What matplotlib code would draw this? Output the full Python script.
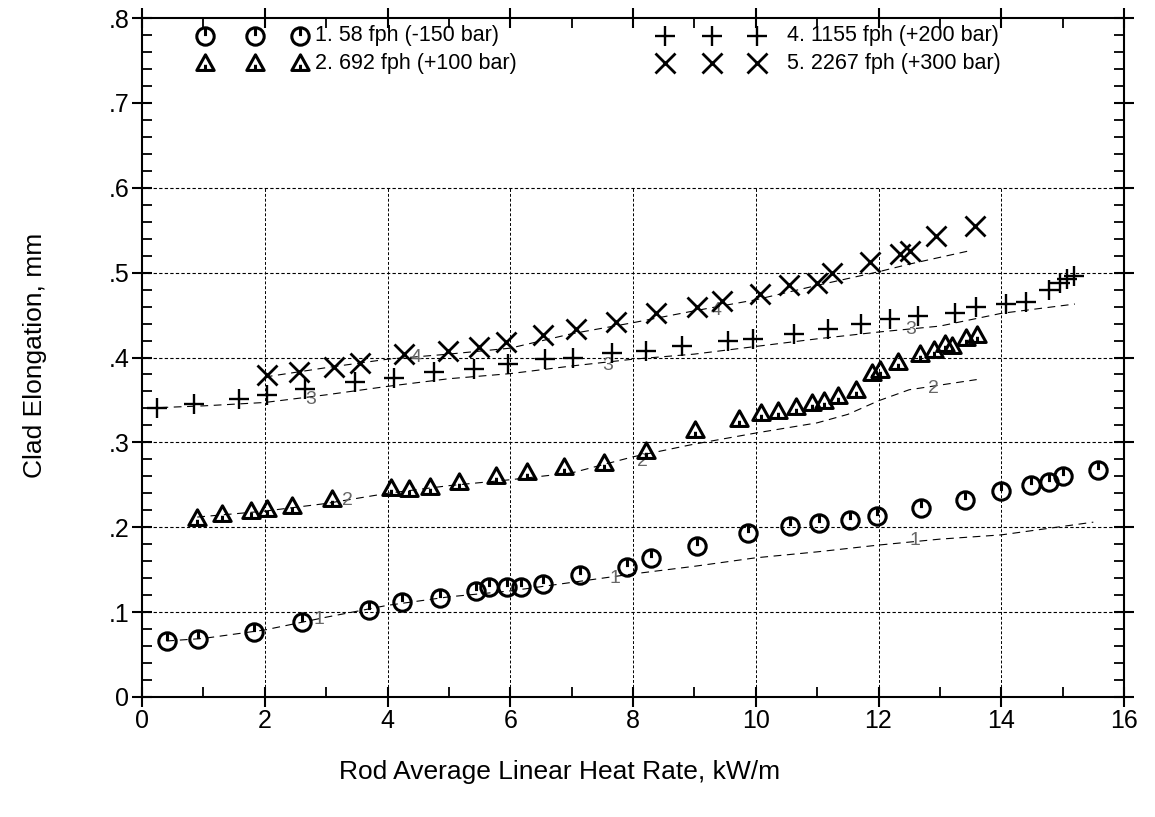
import matplotlib
matplotlib.use("Agg")
import matplotlib.pyplot as plt
from matplotlib.path import Path
from matplotlib.ticker import MultipleLocator, FixedLocator, FixedFormatter
import numpy as np

plt.rcParams['font.family'] = ['Liberation Sans', 'DejaVu Sans']

# ---------------- data (measured series) ----------------
s1_x = [0.41, 0.91, 1.82, 2.60, 3.70, 4.24, 4.85, 5.44, 5.65, 5.94, 6.18, 6.53, 7.14, 7.91,
        8.30, 9.05, 9.87, 10.55, 11.03, 11.53, 11.97, 12.70, 13.41, 14.00, 14.48, 14.78, 15.00, 15.57]
s1_y = [0.066, 0.068, 0.077, 0.088, 0.102, 0.112, 0.117, 0.125, 0.130, 0.130, 0.130, 0.133, 0.144, 0.153,
        0.164, 0.178, 0.193, 0.201, 0.205, 0.208, 0.213, 0.223, 0.232, 0.243, 0.250, 0.253, 0.260, 0.267]

s2_x = [0.90, 1.31, 1.78, 2.04, 2.44, 3.10, 4.05, 4.35, 4.70, 5.16, 5.77, 6.28, 6.88, 7.53,
        8.21, 9.01, 9.73, 10.08, 10.36, 10.65, 10.91, 11.11, 11.34, 11.63, 11.89, 12.03, 12.31,
        12.67, 12.91, 13.09, 13.20, 13.43, 13.61]
s2_y = [0.211, 0.216, 0.219, 0.221, 0.225, 0.233, 0.246, 0.245, 0.248, 0.253, 0.260, 0.265, 0.271, 0.276,
        0.290, 0.315, 0.328, 0.335, 0.337, 0.342, 0.346, 0.349, 0.355, 0.362, 0.382, 0.385, 0.395,
        0.404, 0.409, 0.416, 0.413, 0.423, 0.427]

s4_x = [0.24, 0.84, 1.58, 2.04, 2.66, 3.47, 4.11, 4.76, 5.41, 5.96, 6.56, 7.02, 7.66, 8.21, 8.80,
        9.54, 9.95, 10.62, 11.18, 11.71, 12.18, 12.64, 13.24, 13.59, 14.07, 14.40, 14.78, 14.96,
        15.07, 15.19]
s4_y = [0.341, 0.345, 0.351, 0.356, 0.363, 0.371, 0.376, 0.383, 0.387, 0.392, 0.398, 0.400, 0.405, 0.408,
        0.413, 0.420, 0.422, 0.428, 0.434, 0.439, 0.445, 0.449, 0.453, 0.459, 0.463, 0.465, 0.480,
        0.488, 0.492, 0.496]

s5_x = [2.04, 2.56, 3.13, 3.56, 4.27, 4.98, 5.49, 5.93, 6.53, 7.07, 7.73, 8.38, 9.04, 9.45, 10.07,
        10.54, 10.99, 11.25, 11.86, 12.35, 12.51, 12.94, 13.57]
s5_y = [0.379, 0.383, 0.389, 0.393, 0.404, 0.408, 0.412, 0.418, 0.426, 0.434, 0.442, 0.452, 0.459, 0.466,
        0.475, 0.485, 0.488, 0.499, 0.513, 0.522, 0.526, 0.543, 0.555]

# model curves (dashed)
c1_x = [0.4, 1.0, 2.0, 3.0, 4.0, 5.0, 6.0, 7.0, 8.0, 9.0, 10.0, 11.0, 12.0, 13.0, 14.0, 15.5]
c1_y = [0.066, 0.069, 0.079, 0.094, 0.108, 0.118, 0.125, 0.135, 0.145, 0.154, 0.164, 0.171, 0.179, 0.186,
        0.191, 0.206]
c2_x = [0.9, 2.0, 3.0, 4.0, 5.0, 6.0, 7.0, 8.0, 9.0, 10.0, 11.0, 11.5, 12.0, 12.5, 13.6]
c2_y = [0.212, 0.219, 0.228, 0.240, 0.249, 0.256, 0.264, 0.283, 0.298, 0.311, 0.323, 0.333, 0.349, 0.362,
        0.374]
c3_x = [0.3, 1.0, 2.0, 3.0, 4.0, 5.0, 6.0, 7.0, 8.0, 9.0, 10.0, 11.0, 12.0, 13.0, 14.0, 15.2]
c3_y = [0.341, 0.343, 0.347, 0.356, 0.366, 0.375, 0.381, 0.390, 0.398, 0.404, 0.413, 0.422, 0.430, 0.437,
        0.452, 0.463]
c4_x = [2.0, 3.0, 4.0, 5.0, 6.0, 7.0, 8.0, 9.0, 10.0, 11.0, 12.0, 12.5, 13.5]
c4_y = [0.377, 0.388, 0.398, 0.404, 0.411, 0.428, 0.441, 0.455, 0.468, 0.485, 0.501, 0.510, 0.526]

curve_labels = ['1', '1', '1', '2', '2', '2', '3', '3', '3', '4', '4']
curve_label_x = [2.88, 7.70, 12.60, 3.34, 8.15, 12.90, 2.75, 7.59, 12.53, 4.46, 9.36]
curve_label_y = [0.091, 0.140, 0.184, 0.231, 0.278, 0.363, 0.351, 0.390, 0.433, 0.400, 0.455]

legend_labels = ['1. 58 fph (-150 bar)', '2. 692 fph (+100 bar)',
                 '4. 1155 fph (+200 bar)', '5. 2267 fph (+300 bar)']

x_ticks = [0, 2, 4, 6, 8, 10, 12, 14, 16]
x_ticklabels = ['0', '2', '4', '6', '8', '10', '12', '14', '16']
y_ticks = [0, 0.1, 0.2, 0.3, 0.4, 0.5, 0.6, 0.7, 0.8]
y_ticklabels = ['0', '.1', '.2', '.3', '.4', '.5', '.6', '.7', '.8']
grid_x = [2, 4, 6, 8, 10, 12, 14]
grid_y = [0.1, 0.2, 0.3, 0.4, 0.5, 0.6]

# ---------------- markers ----------------
clock = Path.make_compound_path(
    Path.unit_circle(),
    Path([(0, 0.05), (0, 1.0)], [Path.MOVETO, Path.LINETO]))
tri = Path.make_compound_path(
    Path([(-1, -0.8), (1, -0.8), (0, 1.0), (-1, -0.8)],
         [Path.MOVETO, Path.LINETO, Path.LINETO, Path.CLOSEPOLY]),
    Path([(0, -0.8), (0, -0.15)], [Path.MOVETO, Path.LINETO]))

# ---------------- figure ----------------
fig = plt.figure(figsize=(11.55, 8.17), dpi=100)
ax = fig.add_axes([142 / 1155, 1 - 697 / 817, 982 / 1155, 679 / 817])
ax.set_xlim(0, 16)
ax.set_ylim(0, 0.8)

# grid (only up to .6)
ax.hlines(grid_y, 0, 16, colors='black', linestyles=(0, (3, 2)), linewidth=0.8, zorder=1)
ax.vlines(grid_x, 0, 0.6, colors='black', linestyles=(0, (3, 2)), linewidth=0.7, zorder=1)

dash = dict(color='black', linestyle=(0, (7, 5)), linewidth=0.8, zorder=2)
for cx, cy in [(c1_x, c1_y), (c2_x, c2_y), (c3_x, c3_y), (c4_x, c4_y)]:
    ax.plot(cx, cy, **dash)

for t, lx, ly in zip(curve_labels, curve_label_x, curve_label_y):
    ax.text(lx, ly, t, fontsize=14, color='#666666', ha='center', va='center', zorder=3)

mk = dict(linestyle='none', markerfacecolor='none', markeredgecolor='black', zorder=4)
ax.plot(s1_x, s1_y, marker=clock, markersize=12.5, markeredgewidth=2.2, **mk)
ax.plot(s2_x, s2_y, marker=tri, markersize=12.5, markeredgewidth=2.2, **mk)
ax.plot(s4_x, s4_y, marker='+', markersize=15, markeredgewidth=1.7, **mk)
ax.plot(s5_x, s5_y, marker='x', markersize=14, markeredgewidth=2.0, **mk)

# legend (manual)
leg_rows = [(clock, 12.5, 0.9735, 0.0642, 0.1151, 0.1609, 0.176, legend_labels[0], 2.2),
            (tri, 12.5, 0.9337, 0.0642, 0.1151, 0.1609, 0.176, legend_labels[1], 2.2),
            ('+', 15, 0.9735, 0.5326, 0.5804, 0.6263, 0.6568, legend_labels[2], 1.7),
            ('x', 14, 0.9337, 0.5326, 0.5804, 0.6263, 0.6568, legend_labels[3], 2.0)]
for m, ms, yy, a, b, c, tx, lab, mew in leg_rows:
    ax.plot([a, b, c], [yy] * 3, marker=m, markersize=ms, markeredgewidth=mew,
            transform=ax.transAxes, clip_on=False, **mk)
    ax.text(tx, yy, lab, transform=ax.transAxes, fontsize=15.5, va='center', ha='left')

# ticks
ax.xaxis.set_major_locator(FixedLocator(x_ticks))
ax.xaxis.set_major_formatter(FixedFormatter(x_ticklabels))
ax.yaxis.set_major_locator(FixedLocator(y_ticks))
ax.yaxis.set_major_formatter(FixedFormatter(y_ticklabels))
ax.xaxis.set_minor_locator(MultipleLocator(1))
ax.yaxis.set_minor_locator(MultipleLocator(0.02))
ax.tick_params(which='major', direction='inout', length=14, width=1.5,
               top=True, right=True, labelsize=18, pad=2)
ax.tick_params(which='minor', direction='in', length=7, width=1.3, top=True, right=True)
for sp in ax.spines.values():
    sp.set_linewidth(1.5)

fig.text(35 / 1155, 1 - 355 / 817, 'Clad Elongation, mm', rotation=90,
         ha='center', va='center', fontsize=19)
fig.text(560 / 1155, 1 - 772 / 817, 'Rod Average Linear Heat Rate, kW/m',
         ha='center', va='center', fontsize=19)

fig.savefig('out.png', dpi=100)
